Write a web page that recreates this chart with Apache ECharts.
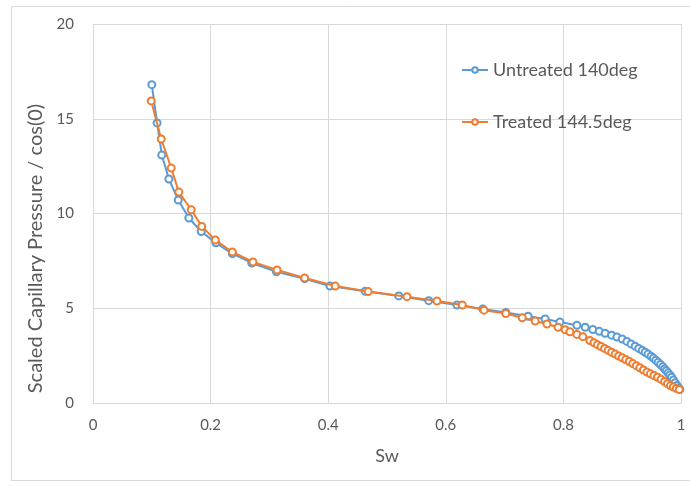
<!DOCTYPE html>
<html>
<head>
<meta charset="utf-8">
<script src="https://cdn.jsdelivr.net/npm/echarts@6/dist/echarts.min.js"></script>
<style>
  html, body { margin: 0; padding: 0; background: #fff; }
  #chart { width: 690px; height: 487px; }
</style>
</head>
<body>
<div id="chart"></div>
<script>
// Capillary pressure curves: [Sw, scaled Pc]
const untreated = [
  [0.100,16.80],[0.109,14.78],[0.117,13.09],[0.129,11.82],[0.145,10.71],[0.163,9.76],
  [0.184,9.05],[0.209,8.45],[0.237,7.88],[0.270,7.39],[0.312,6.92],[0.360,6.56],
  [0.403,6.17],[0.463,5.90],[0.520,5.65],[0.571,5.40],[0.619,5.17],[0.663,4.96],
  [0.702,4.78],[0.740,4.58],[0.769,4.43],[0.794,4.27],[0.823,4.10],[0.837,4.00],
  [0.850,3.88],[0.861,3.78],[0.871,3.68],[0.882,3.58],[0.891,3.48],[0.900,3.38],
  [0.908,3.25],[0.915,3.12],[0.922,3.00],[0.928,2.88],[0.934,2.78],[0.939,2.68],
  [0.944,2.58],[0.949,2.47],[0.953,2.37],[0.957,2.26],[0.961,2.15],[0.965,2.03],
  [0.969,1.91],[0.972,1.80],[0.975,1.70],[0.978,1.59],[0.981,1.48],[0.984,1.36],
  [0.987,1.22],[0.990,1.07],[0.993,0.93],[0.996,0.80],[0.998,0.72]
];
const treated = [
  [0.099,15.94],[0.116,13.93],[0.133,12.40],[0.146,11.13],[0.167,10.20],[0.185,9.32],
  [0.208,8.60],[0.237,7.97],[0.272,7.44],[0.313,7.02],[0.360,6.60],[0.412,6.17],
  [0.468,5.88],[0.534,5.61],[0.585,5.38],[0.628,5.17],[0.665,4.90],[0.702,4.72],
  [0.730,4.50],[0.752,4.33],[0.772,4.17],[0.791,4.00],[0.803,3.87],[0.811,3.76],
  [0.823,3.62],[0.833,3.50],[0.845,3.30],[0.852,3.18],[0.858,3.08],[0.864,2.98],
  [0.870,2.88],[0.876,2.78],[0.882,2.68],[0.888,2.58],[0.894,2.48],[0.900,2.39],
  [0.906,2.29],[0.912,2.19],[0.918,2.08],[0.924,1.97],[0.930,1.86],[0.936,1.74],
  [0.942,1.63],[0.948,1.54],[0.954,1.45],[0.960,1.36],[0.966,1.25],[0.972,1.13],
  [0.977,1.02],[0.982,0.92],[0.987,0.84],[0.992,0.77],[0.997,0.71]
];
const seriesNames = ['Untreated 140deg', 'Treated 144.5deg'];
const xTicks = [0, 0.2, 0.4, 0.6, 0.8, 1];
const yTicks = [0, 5, 10, 15, 20];

const FONT = 'Lato, "Open Sans", "Liberation Sans", sans-serif';
const TEXT = '#595959';
const GRID = '#D9D9D9';

const chart = echarts.init(document.getElementById('chart'), null, { renderer: 'canvas' });
chart.setOption({
  animation: false,
  backgroundColor: '#fff',
  textStyle: { fontFamily: FONT },
  graphic: [{
    type: 'rect',
    shape: { x: 11.5, y: 6.5, width: 690, height: 474 },
    style: { fill: 'none', stroke: GRID, lineWidth: 1 },
    silent: true, z: -10
  }],
  grid: { left: 93, right: 9, top: 24, bottom: 84, containLabel: false },
  legend: {
    orient: 'vertical',
    left: 456, top: 54,
    itemGap: 30, itemWidth: 26, itemHeight: 7,
    textStyle: { fontFamily: FONT, fontSize: 18, color: TEXT, lineHeight: 22 },
    data: seriesNames
  },
  xAxis: {
    type: 'value', min: xTicks[0], max: xTicks[xTicks.length - 1], interval: 0.2,
    name: 'Sw', nameLocation: 'middle', nameGap: 44,
    nameTextStyle: { fontFamily: FONT, fontSize: 18, color: TEXT },
    axisLine: { show: true, lineStyle: { color: GRID, width: 1 } },
    axisTick: { show: false },
    axisLabel: { fontFamily: FONT, fontSize: 15, color: TEXT, margin: 15 },
    splitLine: { show: true, lineStyle: { color: GRID, width: 1 } }
  },
  yAxis: {
    type: 'value', min: yTicks[0], max: yTicks[yTicks.length - 1], interval: 5,
    name: 'Scaled Capillary Pressure / cos(0)', nameLocation: 'middle', nameGap: 40,
    // extra padding on the trailing side pushes the title down along the axis
    nameTextStyle: { fontFamily: FONT, fontSize: 20, color: TEXT, padding: [0, 70, 0, 0] },
    axisLine: { show: true, lineStyle: { color: GRID, width: 1 } },
    axisTick: { show: false },
    axisLabel: { fontFamily: FONT, fontSize: 15, color: TEXT, margin: 19 },
    splitLine: { show: true, lineStyle: { color: GRID, width: 1 } }
  },
  series: [
    {
      name: seriesNames[0], type: 'line', data: untreated,
      symbol: 'emptyCircle', symbolSize: 7, showAllSymbol: true,
      lineStyle: { color: '#5B9BD5', width: 2 },
      itemStyle: { color: '#5B9BD5', borderWidth: 1.2 },
      z: 2
    },
    {
      name: seriesNames[1], type: 'line', data: treated,
      symbol: 'emptyCircle', symbolSize: 7, showAllSymbol: true,
      lineStyle: { color: '#ED7D31', width: 2 },
      itemStyle: { color: '#ED7D31', borderWidth: 1.2 },
      z: 3
    }
  ]
});
</script>
</body>
</html>
